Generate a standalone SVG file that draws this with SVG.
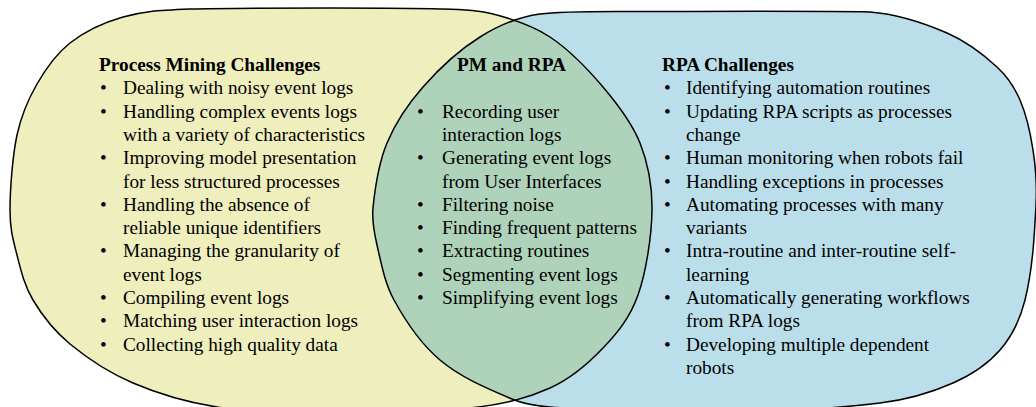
<svg xmlns="http://www.w3.org/2000/svg" width="1036" height="407" viewBox="0 0 1036 407" font-family="'Liberation Serif', 'Times New Roman', Tinos, serif">
<style>
text{font-family:"Liberation Serif","Times New Roman",Tinos,serif;font-size:19.3px;fill:#000}
.h{font-weight:bold}
.outline{fill:none;stroke:#000;stroke-width:1.5}
</style>
<defs>
<path id="leftShape" d="M10,210 C10,190 12.5,156 17,135 C21.5,114 28.2,99.3 37,84 C45.8,68.7 55.7,54.2 70,43 C84.3,31.8 103,22.7 123,17 C143,11.3 155.5,10.5 190,9 C224.5,8 288.3,8 330,8 C371.7,8 412.8,8 440,9 C457.7,9.4 475.7,9.6 493,14 C511.3,18.7 531.7,24.8 550,37 C568.3,49.2 588,69.3 603,87 C618,104.7 631.8,122.5 640,143 C648.2,163.5 652.3,184.7 652,210 C651.7,235.3 646.2,272 638,295 C629.8,318 617.7,332.5 603,348 C588.3,363.5 572.2,378 550,388 C527.8,398 506.7,403.7 470,408 C433.3,412.3 372.2,414.2 330,414 C287.8,413.8 249.8,412.2 217,407 C184.2,401.8 157.5,393.5 133,383 C108.5,372.5 86.7,357.8 70,344 C53.3,330.2 41.8,314.8 33,300 C24.2,285.2 20.8,270 17,255 C13.2,240 10,230 10,210 Z"/>
<path id="rightShape" d="M373,208 C375.2,186 378.5,163.5 387,143 C395.5,122.5 408.3,103.7 423,87 C439.7,68 458.5,50.4 480,37 C498.1,25.7 518.8,16.8 540,14 C559.8,11.4 590,11.5 620,11.5 C700,11.5 845,10.9 870,12 C896.5,14.1 922.6,22.4 947,33 C965.5,41 982.1,53.3 997,67 C1006.9,76.1 1014.7,87.7 1020,100 C1026.8,115.8 1030.4,133 1033,150 C1035.8,168.2 1037,186.6 1036,205 C1034.3,236.9 1032.7,269 1025,300 C1020.5,318.1 1012.2,336 1000,350 C987.5,364.4 970.5,375.3 953,383 C929.9,393.2 905,400 880,403 C821.8,410 762.6,412.3 704,413 C652.7,413.6 601.1,410.7 550,407 C537.1,406.1 523.9,404.1 512,399 C486.9,388.3 460.9,377.6 440,360 C420.7,343.8 406.1,322.1 394,300 C384.8,283.2 381.3,263.7 377,245 C374.2,232.9 371.8,220.3 373,208 Z"/>
<clipPath id="clipLeft"><use href="#leftShape"/></clipPath>
</defs>
<g id="shapes">
<use href="#leftShape" fill="#EFEEBD"/>
<use href="#rightShape" fill="#BBDFEA"/>
<use href="#rightShape" fill="#AFD2BB" clip-path="url(#clipLeft)"/>
<use href="#leftShape" class="outline"/>
<use href="#rightShape" class="outline"/>
</g>
<g id="pm-challenges">
<text x="99" y="71" class="h">Process Mining Challenges</text>
<text x="100" y="94.3">•</text><text x="123" y="94.3">Dealing with noisy event logs</text>
<text x="100" y="117.6">•</text><text x="123" y="117.6">Handling complex events logs</text>
<text x="123" y="140.9">with a variety of characteristics</text>
<text x="100" y="164.2">•</text><text x="123" y="164.2">Improving model presentation</text>
<text x="123" y="187.5">for less structured processes</text>
<text x="100" y="210.8">•</text><text x="123" y="210.8">Handling the absence of</text>
<text x="123" y="234.1">reliable unique identifiers</text>
<text x="100" y="257.4">•</text><text x="123" y="257.4">Managing the granularity of</text>
<text x="123" y="280.7">event logs</text>
<text x="100" y="304">•</text><text x="123" y="304">Compiling event logs</text>
<text x="100" y="327.3">•</text><text x="123" y="327.3">Matching user interaction logs</text>
<text x="100" y="350.6">•</text><text x="123" y="350.6">Collecting high quality data</text>
</g>
<g id="pm-and-rpa">
<text x="457" y="71" class="h">PM and RPA</text>
<text x="417" y="117.6">•</text><text x="442" y="117.6">Recording user</text>
<text x="442" y="140.9">interaction logs</text>
<text x="417" y="164.2">•</text><text x="442" y="164.2">Generating event logs</text>
<text x="442" y="187.5">from User Interfaces</text>
<text x="417" y="210.8">•</text><text x="442" y="210.8">Filtering noise</text>
<text x="417" y="234.1">•</text><text x="442" y="234.1">Finding frequent patterns</text>
<text x="417" y="257.4">•</text><text x="442" y="257.4">Extracting routines</text>
<text x="417" y="280.7">•</text><text x="442" y="280.7">Segmenting event logs</text>
<text x="417" y="304">•</text><text x="442" y="304">Simplifying event logs</text>
</g>
<g id="rpa-challenges">
<text x="662" y="71" class="h">RPA Challenges</text>
<text x="664" y="94.3">•</text><text x="686" y="94.3">Identifying automation routines</text>
<text x="664" y="117.6">•</text><text x="686" y="117.6">Updating RPA scripts as processes</text>
<text x="686" y="140.9">change</text>
<text x="664" y="164.2">•</text><text x="686" y="164.2">Human monitoring when robots fail</text>
<text x="664" y="187.5">•</text><text x="686" y="187.5">Handling exceptions in processes</text>
<text x="664" y="210.8">•</text><text x="686" y="210.8">Automating processes with many</text>
<text x="686" y="234.1">variants</text>
<text x="664" y="257.4">•</text><text x="686" y="257.4">Intra-routine and inter-routine self-</text>
<text x="686" y="280.7">learning</text>
<text x="664" y="304">•</text><text x="686" y="304">Automatically generating workflows</text>
<text x="686" y="327.3">from RPA logs</text>
<text x="664" y="350.6">•</text><text x="686" y="350.6">Developing multiple dependent</text>
<text x="686" y="373.9">robots</text>
</g>
</svg>
